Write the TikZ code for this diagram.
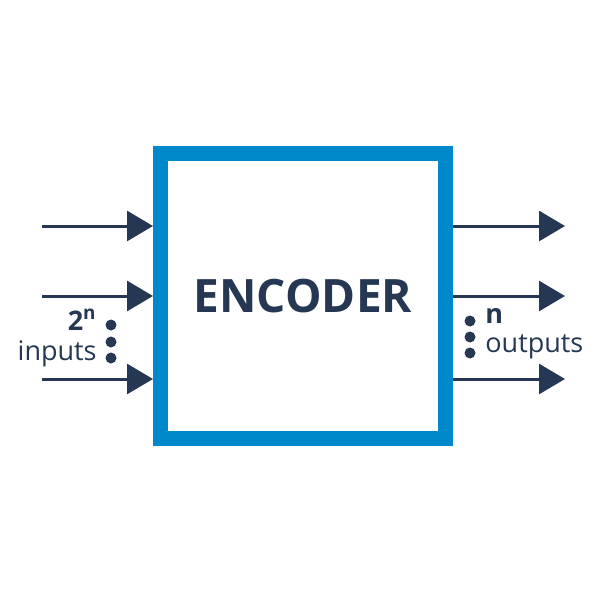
\documentclass[tikz,border=0pt]{standalone}
\usepackage{fontspec}
\setmainfont{Open Sans}
\usepackage{tikz}
\usetikzlibrary{arrows.meta}
\definecolor{encblue}{RGB}{0, 136, 204}
\definecolor{encnavy}{RGB}{37, 55, 82}

\tikzset{
  sigarrow/.style={encnavy, line width=1.5pt, -{Triangle[length=13pt, width=15pt]}},
  sigdot/.style={circle, fill=encnavy, inner sep=0pt, minimum size=5.5pt},
  siglabel/.style={encnavy, font=\fontsize{13.5}{15}\selectfont, inner sep=0pt}
}

\begin{document}
\begin{tikzpicture}[x=0.5pt, y=-0.5pt]
    \useasboundingbox (0,0) rectangle (601,600);

    %% encoder block
    \node[draw=encblue, line width=7.5pt, minimum width=142.5pt, minimum height=142.5pt,
          text=encnavy, font=\fontsize{23}{26}\selectfont\bfseries] (enc) at (303,296) {ENCODER};

    %% inputs
    \coordinate (in1) at (42,226);
    \coordinate (in2) at (42,296);
    \coordinate (in3) at (42,379);
    \draw[sigarrow] (in1) -- (in1 -| enc.west);
    \draw[sigarrow] (in2) -- (in2 -| enc.west);
    \draw[sigarrow] (in3) -- (in3 -| enc.west);

    \node[sigdot] (ldot1) at (111,325) {};
    \node[sigdot] (ldot2) at (111,342) {};
    \node[sigdot] (ldot3) at (111,358) {};
    \node[siglabel, font=\fontsize{13.5}{15}\selectfont\bfseries, anchor=base east] (nin) at (97,330) {2\textsuperscript{n}};
    \node[siglabel, anchor=base east] (inlbl) at (97,360) {inputs};

    %% outputs
    \coordinate (out1) at (565,226);
    \coordinate (out2) at (565,296);
    \coordinate (out3) at (565,379);
    \draw[sigarrow] (out1 -| enc.east) -- (out1);
    \draw[sigarrow] (out2 -| enc.east) -- (out2);
    \draw[sigarrow] (out3 -| enc.east) -- (out3);

    \node[sigdot] (rdot1) at (470,321) {};
    \node[sigdot] (rdot2) at (470,337) {};
    \node[sigdot] (rdot3) at (470,353) {};
    \node[siglabel, font=\fontsize{13.5}{15}\selectfont\bfseries, anchor=base west] (nout) at (485,323) {n};
    \node[siglabel, anchor=base west] (outlbl) at (485,352) {outputs};
\end{tikzpicture}
\end{document}
